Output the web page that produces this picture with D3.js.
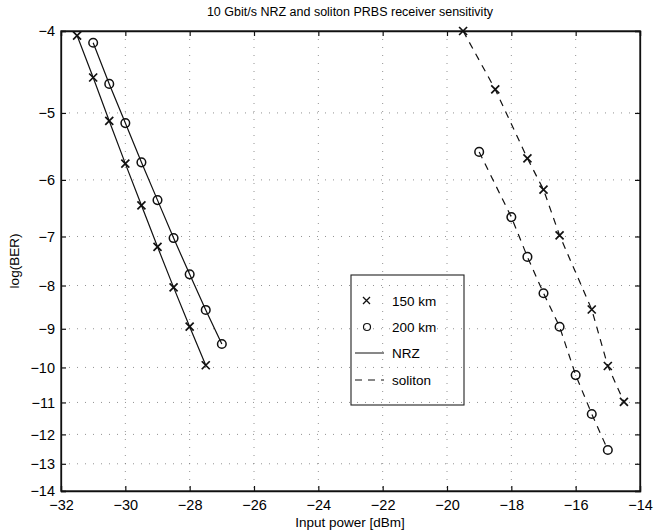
<!DOCTYPE html>
<html>
<head>
<meta charset="utf-8">
<script src="https://cdn.jsdelivr.net/npm/d3@7"></script>
<style>
  body { margin: 0; background: #fff; }
  text { font-family: "Liberation Sans", Arial, sans-serif; fill: #000; }
</style>
</head>
<body>
<svg width="667" height="532"></svg>
<script>
// data (input power in dBm, log10 of BER)
const nrz150Power = [-31.5, -31, -30.5, -30, -29.5, -29, -28.5, -28, -27.5];
const nrz150Ber   = [-4.05, -4.54, -5.11, -5.74, -6.43, -7.2, -8.04, -8.95, -9.94];
const nrz200Power = [-31, -30.5, -30, -29.5, -29, -28.5, -28, -27.5, -27];
const nrz200Ber   = [-4.13, -4.62, -5.14, -5.72, -6.34, -7.03, -7.76, -8.55, -9.38];
const sol150Power = [-19.5, -18.5, -17.5, -17, -16.5, -15.5, -15, -14.5];
const sol150Ber   = [-4.0, -4.69, -5.66, -6.16, -6.98, -8.54, -9.96, -10.98];
const sol200Power = [-19, -18, -17.5, -17, -16.5, -16, -15.5, -15];
const sol200Ber   = [-5.56, -6.64, -7.4, -8.17, -8.95, -10.21, -11.35, -12.52];

const xTicks = [-32, -30, -28, -26, -24, -22, -20, -18, -16, -14];
const yTicks = [-4, -5, -6, -7, -8, -9, -10, -11, -12, -13, -14];
const legendLabels = ["150 km", "200 km", "NRZ", "soliton"];

const margin = { top: 31, right: 27, bottom: 41, left: 61 };
const width = 667 - margin.left - margin.right;
const height = 532 - margin.top - margin.bottom;

const svg = d3.select("svg");
const g = svg.append("g")
  .attr("transform", "translate(" + margin.left + "," + margin.top + ")");

const x = d3.scaleLinear().domain([-32, -14]).range([0, width]);
// the BER axis is stretched like log(-log(BER))
const yLog = d3.scaleLog().domain([4, 14]).range([0, height]);
const y = v => yLog(-v);

const minus = s => String(s).replace("-", "\u2212");

// grid (faint, sparse dots like the scan)
g.append("g").selectAll("line").data(xTicks.slice(1, -1)).join("line")
  .attr("x1", d => x(d)).attr("x2", d => x(d))
  .attr("y1", 0).attr("y2", height)
  .attr("stroke", "#777").attr("stroke-width", 0.8)
  .attr("stroke-dasharray", "1,7");
g.append("g").selectAll("line").data(yTicks.slice(1, -1)).join("line")
  .attr("x1", 0).attr("x2", width)
  .attr("y1", d => y(d)).attr("y2", d => y(d))
  .attr("stroke", "#777").attr("stroke-width", 0.8)
  .attr("stroke-dasharray", "1,7");

// axes with inward ticks
const xAxis = d3.axisBottom(x).tickValues(xTicks).tickSize(-5).tickPadding(9).tickFormat(minus);
const yAxis = d3.axisLeft(yLog).tickValues(yTicks.map(d => -d)).tickSize(-5).tickPadding(6)
  .tickFormat(d => "\u2212" + d);

const gx = g.append("g").attr("transform", "translate(0," + height + ")").call(xAxis);
const gy = g.append("g").call(yAxis);
g.append("g").call(d3.axisTop(x).tickValues(xTicks).tickSize(-5).tickFormat(""));
g.append("g").attr("transform", "translate(" + width + ",0)")
  .call(d3.axisRight(yLog).tickValues(yTicks.map(d => -d)).tickSize(-5).tickFormat(""));

g.selectAll(".domain").attr("stroke", "#111").attr("stroke-width", 1.3);
g.selectAll(".tick line").attr("stroke", "#111").attr("stroke-width", 1.2);
gx.selectAll("text").style("font-size", "14.5px");
gy.selectAll("text").style("font-size", "14.5px");

// box
g.append("rect").attr("width", width).attr("height", height)
  .attr("fill", "none").attr("stroke", "#111").attr("stroke-width", 1.3);

// lines and markers
const series = [
  { px: nrz150Power, py: nrz150Ber, mark: "x", dash: null },
  { px: nrz200Power, py: nrz200Ber, mark: "o", dash: null },
  { px: sol150Power, py: sol150Ber, mark: "x", dash: "7,6" },
  { px: sol200Power, py: sol200Ber, mark: "o", dash: "7,6" }
];

const line = d3.line().x(d => x(d[0])).y(d => y(d[1]));

series.forEach(function(s) {
  const pts = s.px.map((p, i) => [p, s.py[i]]);
  g.append("path")
    .datum(pts)
    .attr("fill", "none")
    .attr("stroke", "#111")
    .attr("stroke-width", 1.2)
    .attr("stroke-dasharray", s.dash)
    .attr("d", line);

  const m = g.append("g").selectAll("g").data(pts).join("g")
    .attr("transform", d => "translate(" + x(d[0]) + "," + y(d[1]) + ")");
  if (s.mark === "x") {
    m.append("path").attr("d", "M-4,-4L4,4M-4,4L4,-4")
      .attr("stroke", "#111").attr("stroke-width", 1.7);
  } else {
    m.append("circle").attr("r", 4.3)
      .attr("fill", "none").attr("stroke", "#111").attr("stroke-width", 1.5);
  }
});

// legend
const lg = svg.append("g").attr("transform", "translate(351,275)");
lg.append("rect").attr("width", 113).attr("height", 130)
  .attr("fill", "none").attr("stroke", "#222").attr("stroke-width", 1.1);
const rowY = [26, 52, 78, 105];
const items = lg.selectAll("g").data(legendLabels).join("g")
  .attr("transform", (d, i) => "translate(0," + rowY[i] + ")");
items.append("text").attr("x", 41).attr("y", 5).style("font-size", "13.5px").text(d => d);
lg.append("path").attr("d", "M12,22L19,29M12,29L19,22")
  .attr("stroke", "#111").attr("stroke-width", 1.3);
lg.append("circle").attr("cx", 16).attr("cy", 52).attr("r", 3.5)
  .attr("fill", "none").attr("stroke", "#111").attr("stroke-width", 1.2);
lg.append("line").attr("x1", 4).attr("x2", 33).attr("y1", 78).attr("y2", 78)
  .attr("stroke", "#111").attr("stroke-width", 1);
lg.append("line").attr("x1", 4).attr("x2", 33).attr("y1", 105).attr("y2", 105)
  .attr("stroke", "#111").attr("stroke-width", 1).attr("stroke-dasharray", "7,6");

// title and axis labels
svg.append("text").attr("x", 350).attr("y", 16).attr("text-anchor", "middle")
  .style("font-size", "12.5px").text("10 Gbit/s NRZ and soliton PRBS receiver sensitivity");
svg.append("text").attr("x", 350).attr("y", 527).attr("text-anchor", "middle")
  .style("font-size", "13.5px").text("Input power [dBm]");
svg.append("text").attr("transform", "translate(19,261) rotate(-90)").attr("text-anchor", "middle")
  .style("font-size", "13.5px").text("log(BER)");
</script>
</body>
</html>
